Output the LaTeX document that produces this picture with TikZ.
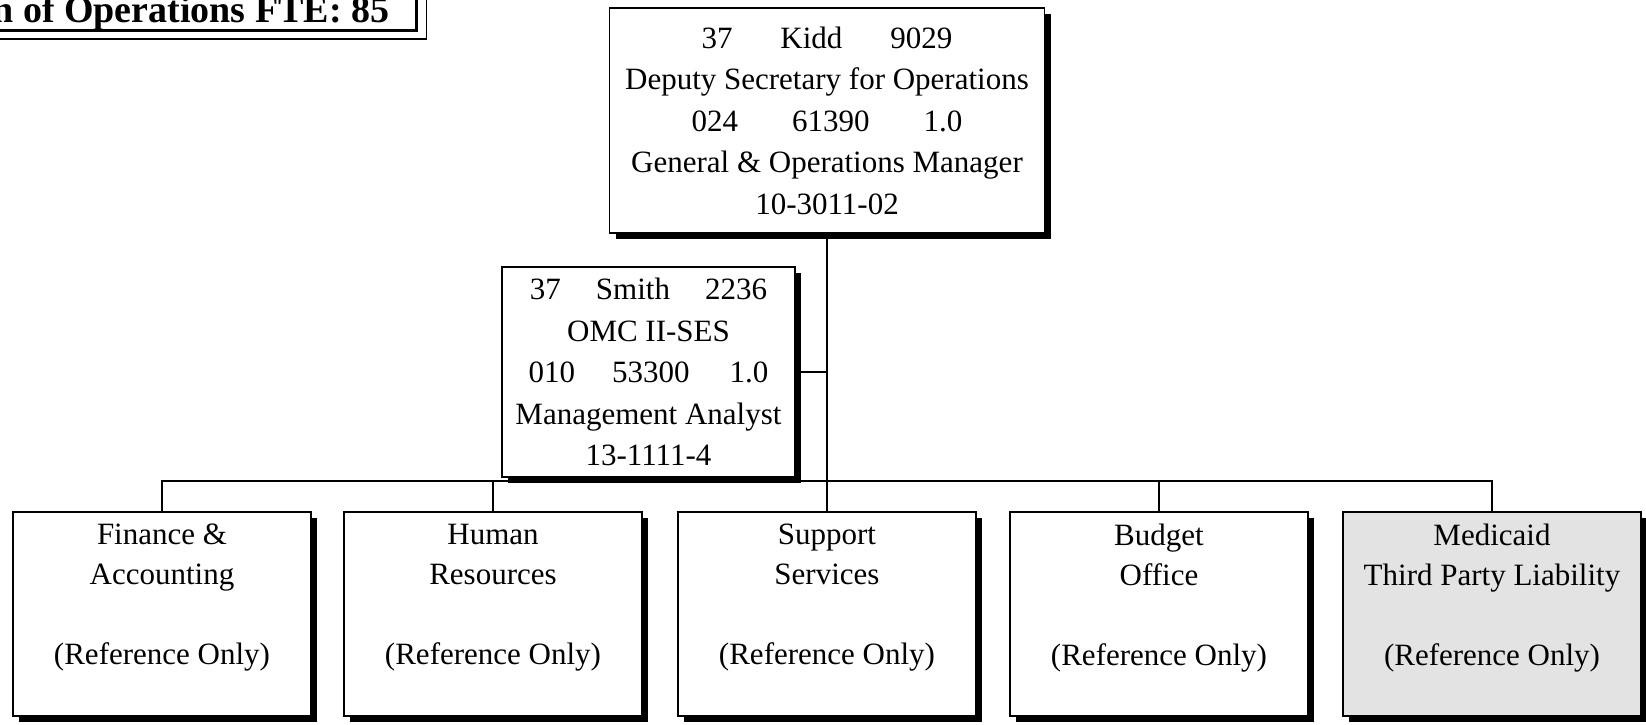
\documentclass[tikz,border=0pt]{standalone}
\usepackage{fontspec}
\setmainfont{Liberation Serif}
\usetikzlibrary{shadows,backgrounds}
\begin{document}
\begin{tikzpicture}[x=0.5pt,y=-0.5pt,
  box/.style={draw=black, line width=0.75pt, fill=white, inner sep=0pt, align=center,
    font=\fontsize{15.5pt}{20.75pt}\selectfont,
    drop shadow={shadow xshift=3pt, shadow yshift=-3pt, fill=black, opacity=1}},
  unitbox/.style={box, minimum width=149pt, minimum height=102pt},
  shadedbox/.style={unitbox, fill=black!11},
  boxtext/.style={align=center, inner sep=0pt, font=\fontsize{15.5pt}{20pt}\selectfont},
  link/.style={line width=0.75pt},
]
\useasboundingbox (0,0) rectangle (1646,724);
\clip (0,0) rectangle (1646,724);

% heading panel with its double border
\draw[line width=1.5pt] (-20,-20) rectangle (416,30);
\draw[line width=0.75pt] (-20,-20) rectangle (426.5,39);
\node[anchor=base west, inner sep=0pt, font=\fontsize{19pt}{23pt}\selectfont\bfseries]
  (title) at (-8,22) {n of Operations FTE: 85};

% positions
\node[box, minimum width=217.5pt, minimum height=112.5pt] (kidd) at (827,120.5)
  {37\hspace{24pt}Kidd\hspace{24pt}9029\\
   Deputy Secretary for Operations\\
   024\hspace{27pt}61390\hspace{27pt}1.0\\
   General \& Operations Manager\\
   10-3011-02};
\node[box, minimum width=146.5pt, minimum height=105pt] (smith) at (648.5,372)
  {37\hspace{17.5pt}Smith\hspace{17.5pt}2236\\
   OMC II-SES\\
   010\hspace{18.5pt}53300\hspace{20pt}1.0\\
   Management Analyst\\
   13-1111-4};
\node[unitbox] (fin) at (162,614) {};
\node[unitbox] (hr)  at (493,614) {};
\node[unitbox] (sup) at (827,614) {};
\node[unitbox] (bud) at (1159,614) {};
\node[shadedbox] (med) at (1492,614) {};

% unit labels
\node[boxtext] (fintext) at (162,598) {Finance \&\\Accounting\\[20pt](Reference Only)};
\node[boxtext] (hrtext)  at (493,598) {Human\\Resources\\[20pt](Reference Only)};
\node[boxtext] (suptext) at (827,598) {Support\\Services\\[20pt](Reference Only)};
\node[boxtext] (budtext) at (1159,598) {Budget\\Office\\[20pt](Reference Only)};
\node[boxtext] (medtext) at (1492,598) {Medicaid\\Third Party Liability\\[20pt](Reference Only)};

% connectors, kept behind the boxes
\coordinate (bus) at (161,481);
\begin{scope}[on background layer]
\draw[link] (kidd.south) -- (sup.north);
\draw[link] (smith.east) -- (smith.east -| kidd.south);
\draw[link] (fin.north) -- (fin.north |- bus) -- (med.north |- bus) -- (med.north);
\draw[link] (hr.north) -- (hr.north |- bus);
\draw[link] (bud.north) -- (bud.north |- bus);
\end{scope}
\end{tikzpicture}
\end{document}
